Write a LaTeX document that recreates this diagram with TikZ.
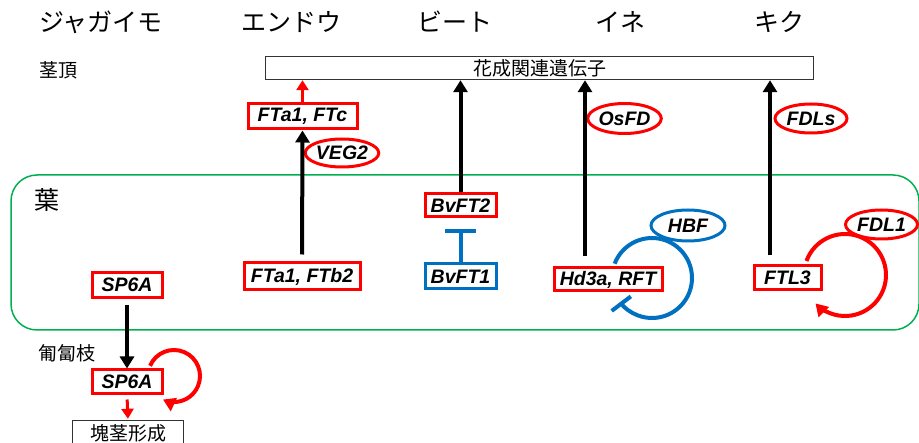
\documentclass[tikz,border=0pt]{standalone}
\usepackage{fontspec}
\setmainfont{Liberation Sans}
\newfontfamily\jp{Noto Sans CJK JP}
\usetikzlibrary{arrows.meta,shapes.geometric}
\definecolor{gred}{RGB}{255,0,0}
\definecolor{gblue}{RGB}{0,112,192}
\definecolor{ggreen}{RGB}{0,176,80}
\begin{document}
\begin{tikzpicture}[x=1pt,y=1pt,
  genefont/.style={font=\fontsize{19.5}{21}\selectfont\bfseries\itshape},
  gene/.style={genefont, draw=gred, line width=3pt, inner sep=0pt, text=black},
  bgene/.style={gene, draw=gblue},
  oval/.style={genefont, ellipse, draw=gred, line width=3pt, inner sep=0pt},
  boval/.style={oval, draw=gblue},
  head/.style={font=\jp\fontsize{25}{27}\selectfont},
  lab/.style={font=\jp\fontsize{19}{21}\selectfont},
  plain/.style={draw=black!80, line width=1.4pt, inner sep=0pt, lab},
  blk/.style={draw=black, line width=4pt, -{Triangle[length=12pt,width=14pt]}},
  redarr/.style={draw=gred, line width=3pt, -{Triangle[length=10pt,width=12pt]}},
  redloop/.style={draw=gred, line width=4pt, -{Triangle[length=12pt,width=14pt]}},
  inhib/.style={draw=gblue, line width=4pt},
  leaf/.style={draw=ggreen, line width=1.5pt, rounded corners=26pt}
]
\useasboundingbox (0,0) rectangle (919,-443);

% leaf region
\draw[leaf] (11,-175) rectangle (919,-330);

% headers
\node[head] (hPot) at (101,-22) {ジャガイモ};
\node[head] (hPea) at (291,-22) {エンドウ};
\node[head] (hBeet) at (455,-22) {ビート};
\node[head] (hRice) at (620,-22) {イネ};
\node[head] (hChr) at (779,-22) {キク};

% region labels
\node[lab] (lApex) at (58,-70) {茎頂};
\node[head] (lLeaf) at (47,-200) {葉};
\node[lab] (lStolon) at (67,-353) {匍匐枝};

% top box
\node[plain, minimum width=548pt, minimum height=23pt] (top) at (539.5,-68) {花成関連遺伝子};

% pea
\node[gene, minimum width=109pt, minimum height=25pt] (FTc) at (302.5,-116.5) {FTa1, FTc};
\node[gene, minimum width=116pt, minimum height=27pt] (FTb2) at (302,-276.5) {FTa1, FTb2};
\node[oval, minimum width=71pt, minimum height=28pt] (VEG2) at (342,-153) {VEG2};
\draw[blk, shorten <=7pt] (FTb2.north) -- (FTc.south);
\draw[redarr] (FTc.north) -- (top.south -| FTc.north);

% potato
\node[gene, minimum width=70pt, minimum height=25pt] (SPa) at (127,-285) {SP6A};
\node[gene, minimum width=70pt, minimum height=24pt] (SPb) at (127,-382) {SP6A};
\node[plain, minimum width=111pt, minimum height=25pt] (tuber) at (128,-433) {塊茎形成};
\draw[blk, shorten <=6pt] (SPa.south) -- (SPb.north);
\draw[redarr, shorten <=4pt, shorten >=1pt] (SPb.south) -- (tuber.north);
\coordinate (cPot) at (174,-376);
\draw[redloop] ([shift={(157:26)}]cPot) arc[start angle=157, end angle=-115, radius=26];

% beet
\node[gene, minimum width=71pt, minimum height=23pt] (BvFT2) at (460.5,-205.5) {BvFT2};
\node[bgene, minimum width=71pt, minimum height=25pt] (BvFT1) at (460.5,-276.5) {BvFT1};
\draw[blk] (BvFT2.north) -- (top.south -| BvFT2.north);
\draw[inhib, -{Bar[width=31pt]}, shorten >=11pt] (BvFT1.north) -- (BvFT2.south);

% rice
\node[gene, minimum width=108pt, minimum height=23pt] (Hd3a) at (608,-279.5) {Hd3a, RFT};
\node[oval, minimum width=73pt, minimum height=30pt] (OsFD) at (624.5,-118.5) {OsFD};
\node[boval, minimum width=74pt, minimum height=31pt] (HBF) at (688,-225.5) {HBF};
\coordinate (rx) at (585,0);
\draw[blk, shorten <=10pt] (Hd3a.north -| rx) -- (top.south -| rx);
\coordinate (cRice) at (652,-278);
\draw[inhib, -{Bar[width=24pt]}] ([shift={(159:40)}]cRice) arc[start angle=159, end angle=-143, radius=40];

% chrysanthemum
\node[gene, minimum width=67pt, minimum height=24pt] (FTL3) at (787.5,-278) {FTL3};
\node[oval, minimum width=72pt, minimum height=29pt] (FDLs) at (811,-118.5) {FDLs};
\node[oval, minimum width=72pt, minimum height=29pt] (FDL1) at (881.5,-224.5) {FDL1};
\coordinate (cx) at (770,0);
\draw[blk, shorten <=9pt] (FTL3.north -| cx) -- (top.south -| cx);
\coordinate (cChr) at (845,-275);
\draw[redloop] ([shift={(160:41)}]cChr) arc[start angle=160, end angle=-136, radius=41];
\end{tikzpicture}
\end{document}
